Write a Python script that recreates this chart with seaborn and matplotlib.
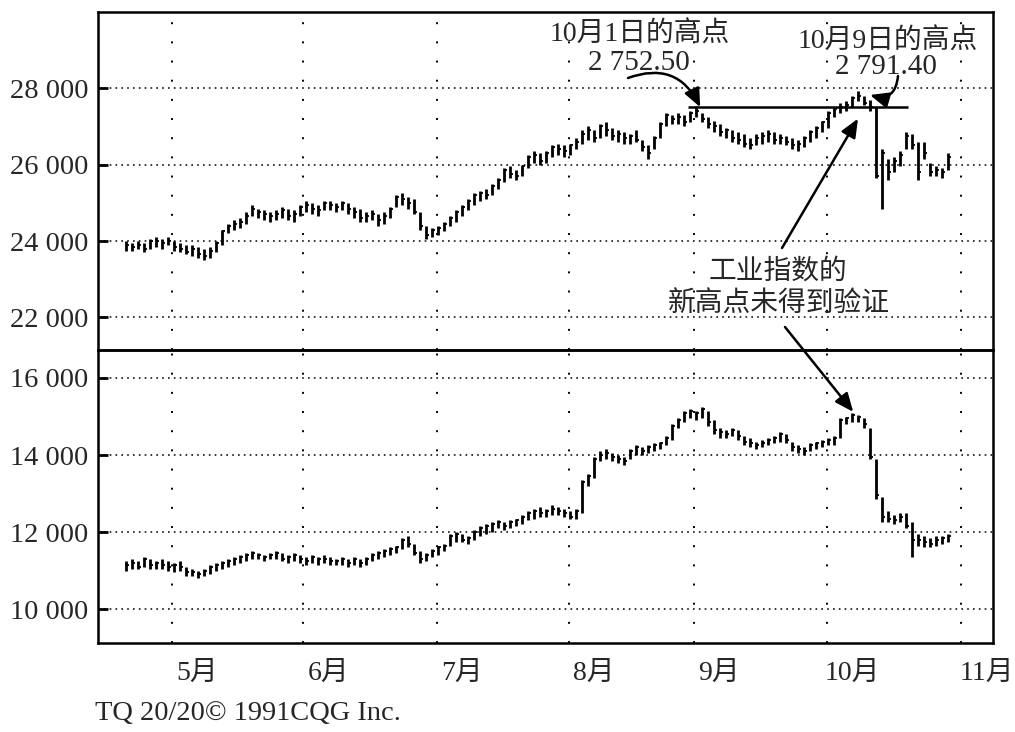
import matplotlib
matplotlib.use("Agg")
import matplotlib.pyplot as plt
import matplotlib.ticker as mticker
from matplotlib.markers import TICKRIGHT
import numpy as np
import pandas as pd
import seaborn as sns

# ---------------- data ----------------
dji_high = [24000, 23950, 24000, 23950, 24050, 24100, 24050, 24100, 24000, 23950,
            23900, 23900, 23850, 23800, 23850, 24000, 24300, 24450, 24550, 24600,
            24750, 24950, 24850, 24800, 24750, 24800, 24900, 24850, 24800, 24950,
            25050, 25000, 24950, 25050, 25050, 25000, 25050, 25000, 24900, 24850,
            24750, 24800, 24700, 24750, 24900, 25200, 25250, 25150, 25100, 24750,
            24400, 24350, 24400, 24500, 24650, 24800, 24950, 25100, 25250, 25300,
            25350, 25500, 25650, 25900, 25950, 25850, 26000, 26250, 26350, 26300,
            26350, 26500, 26550, 26500, 26550, 26700, 26900, 27000, 26900, 27050,
            27100, 26950, 26900, 26850, 26800, 26900, 26650, 26500, 26750, 27100,
            27350, 27300, 27350, 27300, 27400, 27525, 27350, 27250, 27150, 27050,
            26950, 26900, 26850, 26800, 26700, 26800, 26850, 26900, 26850, 26800,
            26750, 26700, 26650, 26750, 26900, 27000, 27150, 27400, 27500, 27600,
            27650, 27800, 27914, 27800, 27700, 27500, 26400, 26150, 26200, 26350,
            26850, 26800, 26600, 26600, 26050, 25950, 25900, 26300]
dji_low = [23750, 23750, 23800, 23700, 23800, 23850, 23800, 23900, 23750, 23700,
           23650, 23600, 23550, 23500, 23550, 23700, 23900, 24200, 24300, 24350,
           24450, 24650, 24600, 24550, 24500, 24550, 24600, 24550, 24500, 24650,
           24750, 24700, 24650, 24800, 24800, 24750, 24800, 24700, 24600, 24500,
           24500, 24550, 24400, 24450, 24600, 24900, 24950, 24850, 24700, 24300,
           24050, 24100, 24150, 24250, 24400, 24500, 24650, 24800, 24950, 25050,
           25100, 25200, 25350, 25550, 25650, 25600, 25700, 25900, 26050, 26000,
           26050, 26200, 26250, 26200, 26250, 26400, 26550, 26650, 26600, 26700,
           26750, 26650, 26600, 26550, 26550, 26600, 26350, 26150, 26400, 26700,
           27000, 27050, 27050, 27000, 27100, 27250, 27100, 26950, 26850, 26750,
           26700, 26600, 26550, 26450, 26400, 26500, 26550, 26600, 26550, 26550,
           26500, 26400, 26350, 26450, 26600, 26700, 26850, 26950, 27250, 27350,
           27400, 27500, 27650, 27550, 27400, 25650, 24850, 25600, 25800, 25950,
           26400, 26400, 25600, 26150, 25700, 25700, 25650, 25850]
dji_close = [23900, 23850, 23900, 23800, 24000, 24000, 23950, 24000, 23850, 23800,
             23700, 23800, 23650, 23600, 23750, 23950, 24250, 24400, 24450, 24500,
             24650, 24850, 24750, 24700, 24650, 24700, 24800, 24650, 24700, 24900,
             24950, 24850, 24800, 25000, 24950, 24900, 25000, 24850, 24750, 24600,
             24650, 24700, 24550, 24650, 24850, 25150, 25100, 25000, 24750, 24400,
             24150, 24300, 24350, 24450, 24600, 24750, 24900, 25050, 25200, 25250,
             25200, 25450, 25600, 25850, 25750, 25700, 25950, 26200, 26250, 26100,
             26300, 26450, 26400, 26350, 26500, 26600, 26800, 26900, 26700, 27000,
             26900, 26750, 26800, 26700, 26750, 26650, 26450, 26300, 26700, 27050,
             27300, 27200, 27250, 27100, 27350, 27400, 27200, 27050, 27000, 26850,
             26900, 26700, 26650, 26550, 26500, 26700, 26750, 26800, 26650, 26700,
             26600, 26500, 26550, 26700, 26850, 26950, 27100, 27350, 27450, 27500,
             27550, 27750, 27800, 27600, 27500, 25700, 26300, 25800, 26100, 26250,
             26750, 26500, 25800, 26300, 25800, 25850, 25800, 26200]

djt_high = [11250, 11300, 11250, 11350, 11300, 11250, 11300, 11250, 11200, 11250,
            11100, 11050, 11000, 11050, 11150, 11200, 11250, 11300, 11350, 11400,
            11450, 11500, 11450, 11400, 11450, 11500, 11450, 11400, 11450, 11400,
            11350, 11400, 11350, 11400, 11350, 11300, 11350, 11300, 11350, 11300,
            11350, 11450, 11500, 11550, 11600, 11650, 11850, 11900, 11700, 11500,
            11450, 11550, 11650, 11700, 11950, 12000, 11950, 11900, 12050, 12150,
            12200, 12250, 12300, 12250, 12300, 12350, 12450, 12550, 12600, 12650,
            12600, 12700, 12650, 12600, 12550, 12600, 13350, 13500, 13950, 14100,
            14150, 14050, 14000, 13950, 14150, 14250, 14200, 14250, 14300, 14350,
            14500, 14800, 14950, 15150, 15200, 15150, 15250, 15150, 14900, 14700,
            14650, 14700, 14650, 14500, 14450, 14350, 14400, 14450, 14500, 14600,
            14550, 14350, 14250, 14200, 14300, 14350, 14400, 14450, 14500, 14950,
            15000, 15100, 15050, 14950, 14700, 13900, 12900, 12550, 12450, 12500,
            12500, 12250, 11950, 11900, 11850, 11900, 11900, 11950]
djt_low = [11000, 11050, 11050, 11100, 11050, 11050, 11050, 11000, 10950, 11000,
           10850, 10850, 10800, 10850, 10900, 11000, 11050, 11100, 11150, 11200,
           11250, 11300, 11300, 11250, 11300, 11300, 11250, 11200, 11250, 11200,
           11150, 11200, 11150, 11200, 11150, 11150, 11150, 11100, 11150, 11100,
           11150, 11250, 11300, 11350, 11400, 11450, 11550, 11600, 11400, 11200,
           11250, 11350, 11400, 11500, 11650, 11750, 11750, 11700, 11800, 11900,
           11950, 12000, 12100, 12050, 12100, 12150, 12200, 12300, 12350, 12400,
           12400, 12450, 12450, 12400, 12350, 12350, 12500, 13200, 13400, 13850,
           13900, 13850, 13800, 13750, 13900, 14000, 14000, 14050, 14100, 14150,
           14250, 14400, 14700, 14850, 14950, 14900, 14950, 14750, 14550, 14450,
           14450, 14500, 14400, 14250, 14200, 14150, 14200, 14250, 14300, 14350,
           14300, 14100, 14050, 14000, 14100, 14150, 14200, 14250, 14250, 14450,
           14800, 14850, 14850, 14700, 13900, 12850, 12250, 12250, 12200, 12250,
           12100, 11350, 11650, 11600, 11600, 11650, 11700, 11750]
djt_close = [11150, 11200, 11100, 11300, 11150, 11200, 11150, 11100, 11150, 11100,
             10950, 10950, 10900, 11000, 11100, 11150, 11200, 11250, 11300, 11350,
             11400, 11450, 11400, 11350, 11400, 11450, 11300, 11350, 11400, 11300,
             11250, 11350, 11300, 11300, 11250, 11250, 11300, 11200, 11300, 11200,
             11300, 11400, 11450, 11500, 11550, 11600, 11800, 11700, 11450, 11300,
             11400, 11500, 11600, 11650, 11900, 11950, 11800, 11850, 12000, 12100,
             12150, 12200, 12250, 12150, 12250, 12300, 12400, 12500, 12550, 12500,
             12550, 12600, 12550, 12500, 12400, 12550, 13300, 13450, 13900, 14000,
             14050, 13950, 13900, 13850, 14100, 14200, 14100, 14200, 14250, 14300,
             14450, 14750, 14900, 15100, 15150, 15100, 15200, 14850, 14650, 14600,
             14550, 14650, 14500, 14350, 14300, 14250, 14300, 14400, 14450, 14550,
             14400, 14200, 14150, 14100, 14250, 14300, 14350, 14400, 14450, 14900,
             14950, 15050, 15000, 14800, 13950, 12950, 12400, 12350, 12300, 12400,
             12150, 11800, 11800, 11750, 11700, 11800, 11850, 11900]

month_labels = ["5月", "6月", "7月", "8月", "9月", "10月", "11月"]
month_start = [7.7, 29.5, 51.8, 73.8, 94.7, 116.8, 139.2]   # trading-day index of month start
dji_ticks = [22000, 24000, 26000, 28000]
djt_ticks = [10000, 12000, 14000, 16000]
high_sep1 = 27500          # 9/1 high level (resistance line)
peak1_day, peak2_day = 95.7, 124.0
peak2_value = 27820

days = np.arange(len(dji_high))
dji = pd.DataFrame({"day": days, "high": dji_high, "low": dji_low, "close": dji_close})
djt = pd.DataFrame({"day": days, "high": djt_high, "low": djt_low, "close": djt_close})

# ---------------- style ----------------
sns.set_theme(style="white")
plt.rcParams["font.family"] = ["Liberation Serif", "Noto Sans CJK SC", "DejaVu Sans"]
plt.rcParams["lines.scale_dashes"] = False
plt.rcParams["axes.unicode_minus"] = False

W, H = 1015, 732
fig = plt.figure(figsize=(W / 100, H / 100), dpi=100)
fig.patch.set_facecolor("white")

def fx(px):
    return px / W

def fy(py):
    return 1 - py / H

ax_top = fig.add_axes([fx(98), fy(350), fx(993) - fx(98), fy(12) - fy(350)])
ax_bot = fig.add_axes([fx(98), fy(643), fx(993) - fx(98), fy(350) - fy(643)])

fmt = mticker.FuncFormatter(lambda v, p: f"{int(round(v)):,}".replace(",", " "))

def draw_panel(ax, df, ticks, ylim):
    ax.vlines(df["day"], df["low"], df["high"], color="black", lw=2.0)
    sns.scatterplot(data=df, x="day", y="close", marker=TICKRIGHT, s=6,
                    color="black", linewidth=1.3, ax=ax, legend=False)
    ax.set_xlim(-4.67, 144.5)
    ax.set_ylim(*ylim)
    ax.set_yticks(ticks)
    ax.yaxis.set_major_formatter(fmt)
    ax.set_xlabel("")
    ax.set_ylabel("")
    ax.xaxis.set_minor_locator(mticker.FixedLocator(month_start))
    ax.grid(axis="y", which="major", color="black", lw=1.1, linestyle=(0, (1.2, 3.0)))
    ax.grid(axis="x", which="minor", color="black", lw=1.4, linestyle=(0, (1.4, 12.4)))
    ax.grid(axis="x", which="major", visible=False)
    for s in ax.spines.values():
        s.set_visible(True)
        s.set_color("black")
        s.set_linewidth(1.8)
    ax.tick_params(axis="y", direction="in", length=7, width=2, color="black",
                   labelsize=20.5, pad=7, left=True)
    ax.tick_params(axis="x", which="both", length=0)
    ax.set_facecolor("none")

draw_panel(ax_top, dji, dji_ticks, (21150, 29990))
draw_panel(ax_bot, djt, djt_ticks, (9118, 16727))

ax_top.set_xticks([])
ax_bot.set_xticks([m + 4.2 for m in month_start])
ax_bot.set_xticklabels(month_labels)
ax_bot.tick_params(axis="x", which="major", labelsize=20, pad=13)

# resistance line from the 9/1 high
ax_top.hlines(high_sep1, 93.7, 130.3, color="black", lw=1.8)

cjk = ["Liberation Serif", "Noto Sans CJK SC"]
fig.text(fx(640), fy(35), "10月1日的高点", ha="center", va="center", fontsize=20, family=cjk)
fig.text(fx(639), fy(63), "2 752.50", ha="center", va="center", fontsize=21, family=cjk)
fig.text(fx(888), fy(42), "10月9日的高点", ha="center", va="center", fontsize=20, family=cjk)
fig.text(fx(886), fy(67), "2 791.40", ha="center", va="center", fontsize=21, family=cjk)
fig.text(fx(778), fy(272), "工业指数的", ha="center", va="center", fontsize=20, family=cjk)
fig.text(fx(779), fy(305), "新高点未得到验证", ha="center", va="center", fontsize=20, family=cjk)
fig.text(fx(95), fy(714), "TQ 20/20\u00a9 1991CQG Inc.", ha="left", va="center", fontsize=20.5,
         family=["Liberation Serif"])

arrow = dict(arrowstyle="-|>,head_length=0.7,head_width=0.3", color="black", lw=1.8,
             shrinkA=0, shrinkB=0, mutation_scale=16)

ax_top.annotate("", xy=(peak1_day, high_sep1), xycoords="data",
                xytext=(fx(628), fy(78)), textcoords="figure fraction",
                arrowprops=dict(arrow, connectionstyle="arc3,rad=-0.45"), annotation_clip=False)
ax_top.annotate("", xy=(peak2_day, peak2_value), xycoords="data",
                xytext=(fx(898), fy(76)), textcoords="figure fraction",
                arrowprops=dict(arrow, connectionstyle="arc3,rad=-0.6"), annotation_clip=False)
ax_top.annotate("", xy=(122.0, 27200), xycoords="data",
                xytext=(fx(782), fy(248)), textcoords="figure fraction",
                arrowprops=arrow, annotation_clip=False)
ax_bot.annotate("", xy=(121.2, 15120), xycoords="data",
                xytext=(fx(785), fy(327)), textcoords="figure fraction",
                arrowprops=arrow, annotation_clip=False)

fig.savefig("out.png", dpi=100, facecolor="white")
